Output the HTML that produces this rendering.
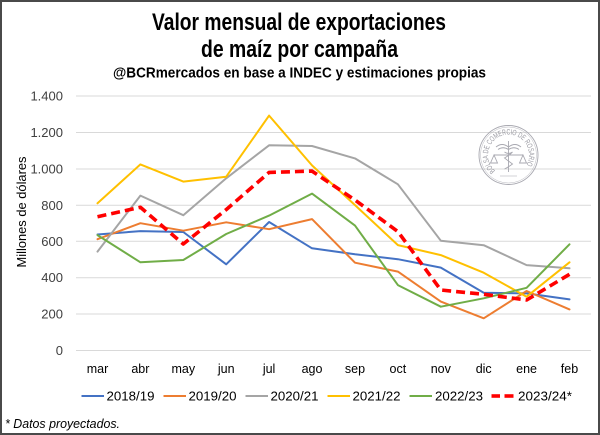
<!DOCTYPE html>
<html><head><meta charset="utf-8"><style>
html,body{margin:0;padding:0;background:#fff;}
svg{display:block;}
</style></head><body>
<svg width="600" height="435" viewBox="0 0 600 435" xmlns="http://www.w3.org/2000/svg">
<rect x="0" y="0" width="600" height="435" fill="#fff"/>
<rect x="1" y="1" width="598" height="433" fill="none" stroke="#4a4a4a" stroke-width="2"/>
<!-- titles -->
<g font-family="'Liberation Sans Narrow','Liberation Sans',sans-serif" font-weight="bold" fill="#000">
<text x="152" y="30" font-size="24" textLength="294" lengthAdjust="spacingAndGlyphs">Valor mensual de exportaciones</text>
<text x="201" y="57" font-size="24" textLength="197" lengthAdjust="spacingAndGlyphs">de maíz por campaña</text>
<text x="113" y="77.5" font-size="14.5" textLength="373" lengthAdjust="spacingAndGlyphs">@BCRmercados en base a INDEC y estimaciones propias</text>
</g>
<!-- gridlines -->
<g stroke="#d9d9d9" stroke-width="1">
<line x1="76" y1="96" x2="591" y2="96"/>
<line x1="76" y1="132.5" x2="591" y2="132.5"/>
<line x1="76" y1="169" x2="591" y2="169"/>
<line x1="76" y1="205.3" x2="591" y2="205.3"/>
<line x1="76" y1="241.3" x2="591" y2="241.3"/>
<line x1="76" y1="277.7" x2="591" y2="277.7"/>
<line x1="76" y1="314" x2="591" y2="314"/>
<line x1="76" y1="350.5" x2="591" y2="350.5"/>
</g>
<!-- logo watermark -->
<g fill="none" stroke="#a8a8b0" stroke-width="0.9">
<circle cx="508.5" cy="155" r="29.5"/>
<circle cx="508.5" cy="155" r="28" stroke-width="0.4"/>
<path d="M496 147 q6 -5 12.5 0 q6.5 -5 12.5 0" />
<path d="M498 149.5 q5 -3.5 10.5 0 q5.5 -3.5 10.5 0" />
<line x1="508.5" y1="141" x2="508.5" y2="172"/>
<path d="M504.5 152 q4 3 8 0 q-4 4 -8 6 q4 3 8 6 q-4 3 -8 5"/>
<line x1="494" y1="155" x2="523" y2="155"/>
<path d="M494 155 l-3.5 8 h7 z M523 155 l-3.5 8 h7 z"/>
<line x1="500" y1="176" x2="517" y2="176" stroke-width="0.6"/>
</g>
<defs><path id="ring" d="M495.3 170.7 A20.5 20.5 0 1 1 525.3 166.8"/></defs>
<text font-family="'Liberation Sans',sans-serif" font-size="7.8" fill="#9a9aa2"><textPath href="#ring" textLength="92" lengthAdjust="spacingAndGlyphs">BOLSA DE COMERCIO DE ROSARIO</textPath></text>
<!-- y tick labels -->
<g font-family="'Liberation Sans',sans-serif" font-size="13" fill="#404040" text-anchor="end">
<text x="63" y="100.5">1.400</text>
<text x="63" y="137">1.200</text>
<text x="63" y="173.5">1.000</text>
<text x="63" y="209.8">800</text>
<text x="63" y="245.8">600</text>
<text x="63" y="282.2">400</text>
<text x="63" y="318.5">200</text>
<text x="63" y="355">0</text>
</g>
<text transform="translate(26,212) rotate(-90)" font-family="'Liberation Sans',sans-serif" font-size="13" fill="#000" text-anchor="middle" textLength="111" lengthAdjust="spacingAndGlyphs">Millones de dólares</text>
<!-- x labels -->
<g font-family="'Liberation Sans',sans-serif" font-size="12.5" fill="#000" text-anchor="middle">
<text x="97.5" y="373">mar</text>
<text x="140.4" y="373">abr</text>
<text x="183.3" y="373">may</text>
<text x="226.2" y="373">jun</text>
<text x="269.1" y="373">jul</text>
<text x="312" y="373">ago</text>
<text x="355" y="373">sep</text>
<text x="397.9" y="373">oct</text>
<text x="440.8" y="373">nov</text>
<text x="483.7" y="373">dic</text>
<text x="526.6" y="373">ene</text>
<text x="569.5" y="373">feb</text>
</g>
<!-- series -->
<g fill="none" stroke-width="2" stroke-linejoin="round" stroke-linecap="round">
<polyline stroke="#4472c4" points="97.5,234.5 140.4,231.1 183.3,232.0 226.2,264.3 269.1,222.0 312.0,248.3 355.0,254.3 397.9,259.2 440.8,267.6 483.7,292.7 526.6,293.4 569.5,299.4"/>
<polyline stroke="#ed7d31" points="97.5,239.2 140.4,223.2 183.3,230.7 226.2,222.3 269.1,229.2 312.0,219.1 355.0,262.7 397.9,271.6 440.8,301.6 483.7,318.3 526.6,291.0 569.5,309.4"/>
<polyline stroke="#a5a5a5" points="97.5,251.6 140.4,195.6 183.3,215.2 226.2,178.3 269.1,145.3 312.0,146.0 355.0,158.4 397.9,184.3 440.8,240.7 483.7,245.2 526.6,265.1 569.5,268.3"/>
<polyline stroke="#ffc000" points="97.5,203.3 140.4,164.4 183.3,181.6 226.2,176.7 269.1,115.6 312.0,165.4 355.0,205.1 397.9,245.1 440.8,255.1 483.7,272.7 526.6,296.7 569.5,262.3"/>
<polyline stroke="#70ad47" points="97.5,235.1 140.4,262.3 183.3,260.0 226.2,234.0 269.1,215.6 312.0,193.6 355.0,225.6 397.9,285.1 440.8,306.7 483.7,298.3 526.6,287.8 569.5,244.3"/>
<polyline stroke="#ff0000" stroke-width="3.6" stroke-dasharray="9 5" stroke-linecap="butt" points="97.5,216.7 140.4,207.3 183.3,244.0 226.2,209.6 269.1,172.4 312.0,171.1 355.0,200.0 397.9,231.6 440.8,290.0 483.7,294.3 526.6,300.0 569.5,274.3"/>
</g>
<!-- legend -->
<g stroke-width="2">
<line x1="81.5" y1="396" x2="104" y2="396" stroke="#4472c4"/>
<line x1="163.5" y1="396" x2="186" y2="396" stroke="#ed7d31"/>
<line x1="245.5" y1="396" x2="268" y2="396" stroke="#a5a5a5"/>
<line x1="327.5" y1="396" x2="350" y2="396" stroke="#ffc000"/>
<line x1="409.5" y1="396" x2="432" y2="396" stroke="#70ad47"/>
<line x1="491.5" y1="396" x2="500" y2="396" stroke="#ff0000" stroke-width="3.6"/>
<line x1="504.5" y1="396" x2="513.5" y2="396" stroke="#ff0000" stroke-width="3.6"/>
</g>
<g font-family="'Liberation Sans',sans-serif" font-size="13" fill="#000">
<text x="106.5" y="400.5" textLength="48" lengthAdjust="spacingAndGlyphs">2018/19</text>
<text x="188.5" y="400.5" textLength="48" lengthAdjust="spacingAndGlyphs">2019/20</text>
<text x="270.5" y="400.5" textLength="48" lengthAdjust="spacingAndGlyphs">2020/21</text>
<text x="352.5" y="400.5" textLength="48" lengthAdjust="spacingAndGlyphs">2021/22</text>
<text x="435" y="400.5" textLength="48" lengthAdjust="spacingAndGlyphs">2022/23</text>
<text x="518" y="400.5" textLength="54" lengthAdjust="spacingAndGlyphs">2023/24*</text>
</g>
<text x="5" y="428" font-family="'Liberation Sans',sans-serif" font-size="13" font-style="italic" fill="#000" textLength="115" lengthAdjust="spacingAndGlyphs">* Datos proyectados.</text>
</svg>
</body></html>
